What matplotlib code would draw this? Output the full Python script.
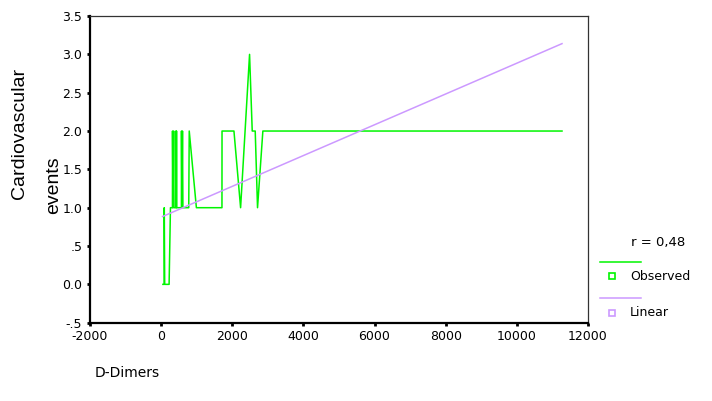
"""Curve fit of cardiovascular events against D-Dimers (observed vs linear)."""
import matplotlib; matplotlib.use("Agg")
import matplotlib.pyplot as plt
from matplotlib.lines import Line2D
import numpy as np

GREEN = "#00F500"; LILAC = "#CC99FF"; INK = "#000000"

# observed values, in the order of increasing D-Dimers
obs_x = [50, 85, 88, 100, 224, 262, 318, 320, 335, 352, 362, 411, 413, 425, 432,
         440, 570, 572, 585, 600, 612, 776, 790, 991, 1710, 1712, 2047, 2234,
         2486, 2561, 2645, 2710, 2860, 11270]
obs_y = [0, 0, 1, 0, 0, 1, 1, 2, 1, 2, 1, 1, 2, 1, 2,
         1, 1, 2, 1, 2, 1, 1, 2, 1, 1, 2, 2, 1,
         3, 2, 2, 1, 2, 2]
# linear fit
lin_x = [40, 11270]
lin_y = [0.885, 3.14]
r_text = "r = 0,48"

x_ticks = [-2000, 0, 2000, 4000, 6000, 8000, 10000, 12000]
y_ticks = [-0.5, 0.0, 0.5, 1.0, 1.5, 2.0, 2.5, 3.0, 3.5]
y_labels = ["-.5", "0.0", ".5", "1.0", "1.5", "2.0", "2.5", "3.0", "3.5"]

plt.rcParams.update({"font.family": "DejaVu Sans", "font.size": 9})

fig = plt.figure(figsize=(7.12, 4.01), dpi=100)
ax = fig.add_axes([0.1264, 0.1953, 0.6994, 0.7647])
ax.plot(obs_x, obs_y, color=GREEN, lw=1.1)
ax.plot(lin_x, lin_y, color=LILAC, lw=1.1)
ax.set_xlim(-2000, 12000)
ax.set_ylim(-0.5, 3.5)
ax.set_xticks(x_ticks)
ax.set_xticklabels([str(t) for t in x_ticks])
ax.set_yticks(y_ticks)
ax.set_yticklabels(y_labels)
ax.tick_params(direction="out", length=2.5, width=2, pad=3, labelsize=9)
for sp in ("left", "bottom"):
    ax.spines[sp].set_linewidth(1.6)
for sp in ("top", "right"):
    ax.spines[sp].set_linewidth(0.9)
    ax.spines[sp].set_color("#333333")

fig.text(20 / 712, 1 - 133 / 401, "Cardiovascular", rotation=90, ha="center",
         va="center", fontsize=14, family="Liberation Sans")
fig.text(54 / 712, 1 - 185 / 401, "events", rotation=90, ha="center",
         va="center", fontsize=14, family="Liberation Sans")
fig.text(95 / 712, 1 - 373 / 401, "D-Dimers", ha="left", va="center", fontsize=10)

# legend
fig.text(631 / 712, 1 - 242 / 401, r_text, ha="left", va="center", fontsize=9.5)
fig.add_artist(Line2D([600 / 712, 641 / 712], [1 - 262 / 401] * 2, color=GREEN, lw=1.1))
fig.add_artist(Line2D([612 / 712], [1 - 276 / 401], marker="s", ms=4, mfc="white",
                      mec=GREEN, mew=1.2, ls="none"))
fig.text(630 / 712, 1 - 276 / 401, "Observed", ha="left", va="center", fontsize=9)
fig.add_artist(Line2D([600 / 712, 641 / 712], [1 - 298 / 401] * 2, color=LILAC, lw=1.1))
fig.add_artist(Line2D([612 / 712], [1 - 313 / 401], marker="s", ms=4, mfc="white",
                      mec=LILAC, mew=1.2, ls="none"))
fig.text(630 / 712, 1 - 313 / 401, "Linear", ha="left", va="center", fontsize=9)

fig.savefig("out.png", dpi=100, facecolor="white")
